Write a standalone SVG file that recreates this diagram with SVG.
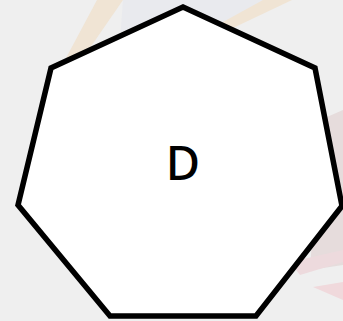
<svg xmlns="http://www.w3.org/2000/svg" width="343" height="321" viewBox="0 0 343 321">
<style>
.node{fill:#ffffff;stroke:#000000;stroke-width:5.5;stroke-linejoin:miter}
.label{font-family:"Noto Sans","Open Sans",sans-serif;font-size:47px;font-weight:500;fill:#000000;text-anchor:middle}
</style>
<g id="background">
<rect x="0" y="0" width="343" height="321" fill="#efefef"/>
<polygon points="123,0 265,0 200,40 120,40" fill="#e9eaee"/>
<polygon points="97,0 123,0 83,58 66,58" fill="#f0e4d4"/>
<polygon points="263,0 292,0 233,28 212,28" fill="#f0e4d4"/>
<polygon points="320,120 343,110 343,265 310,270" fill="#e6dcdc"/>
<polygon points="290,262 343,250 343,262 300,275" fill="#eddadd"/>
<polygon points="313,287 343,282 343,300" fill="#f0d9dc"/>
</g>
<g id="connectors"></g>
<g id="node-D">
<polygon class="node" points="183,7 315,68 342,206 256,316 110,316 18,205 51,68"/>
<text class="label" x="183" y="180">D</text>
</g>
</svg>
